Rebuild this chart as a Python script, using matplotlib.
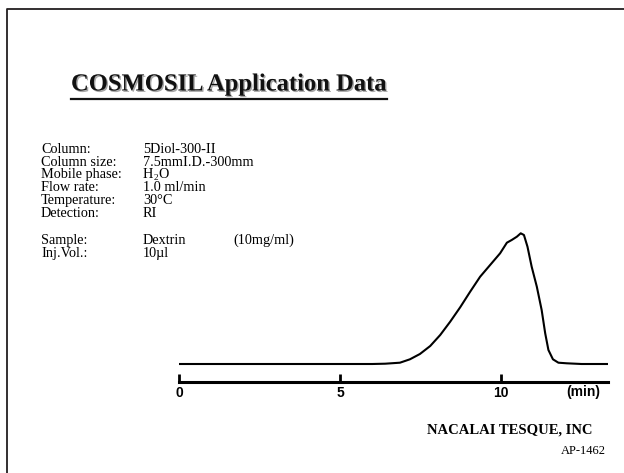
import matplotlib
matplotlib.use("Agg")
import matplotlib.pyplot as plt
import matplotlib.patheffects as pe
from matplotlib.lines import Line2D

# chromatogram (time in min, RI signal in arbitrary units)
time_min = [0.0, 3.0, 6.0, 6.4, 6.86, 7.17, 7.48, 7.80, 8.11, 8.42, 8.73,
            9.04, 9.35, 9.66, 9.97, 10.18, 10.33, 10.49, 10.61, 10.71,
            10.82, 10.95, 11.11, 11.26, 11.37, 11.47, 11.61, 11.78, 12.04,
            12.5, 13.32]
signal = [0.0, 0.0, 0.0, 0.3, 1.3, 4.7, 10, 18, 29, 42.3, 56.7,
          72.3, 87.3, 99, 110.7, 121.3, 124, 127.3, 130.7, 129,
          117.3, 97.3, 77.3, 54, 30.7, 14, 4.7, 1.3, 0.7,
          0.0, 0.0]
x_ticks = [0, 5, 10]

labels = ["Column:", "Column size:", "Mobile phase:", "Flow rate:",
          "Temperature:", "Detection:"]
values = ["5Diol-300-II", "7.5mmI.D.-300mm", None, "1.0 ml/min",
          "30°C", "RI"]
mobile_phase = ["H", "2", "O"]  # H2O, drawn with a real small subscript
sample_labels = ["Sample:", "Inj.Vol.:"]
sample_values = ["Dextrin", "10µl"]

W, H = 624, 473
fig = plt.figure(figsize=(W / 100, H / 100), dpi=100)

def fx(px):
    return px / W

def fy(py):
    return 1 - py / H

# page frame (top and left edge)
fig.add_artist(Line2D([fx(7), fx(7), 1.0], [0.0, fy(9), fy(9)],
                      color="#231f20", lw=1.3, transform=fig.transFigure))

# title with underline and soft shadow
title = fig.text(fx(71), fy(84), "COSMOSIL Application Data",
                 family="Liberation Serif", weight="bold", fontsize=17.7,
                 va="center", ha="left", color="#111111")
title.set_path_effects([pe.SimplePatchShadow(offset=(1, -1), alpha=0.35),
                        pe.Normal()])
fig.canvas.draw()
renderer = fig.canvas.get_renderer()
bb = title.get_window_extent(renderer)
fig.add_artist(Line2D([fx(bb.x0), fx(bb.x1)], [fy(99), fy(99)],
                      color="#111111", lw=1.6, transform=fig.transFigure))

# conditions
fs = 10.3
serif = dict(family="Liberation Serif", fontsize=fs, ha="left",
             va="baseline")
base_off = 3.8  # baseline sits this many px below the line centre
for i, (lab, val) in enumerate(zip(labels, values)):
    y = 149 + i * 12.8 + base_off
    fig.text(fx(41), fy(y), lab, **serif)
    if val is not None:
        fig.text(fx(143), fy(y), val, **serif)
    else:
        x = 143
        for part, small in zip(mobile_phase, [False, True, False]):
            t = fig.text(fx(x), fy(y + (2 if small else 0)), part,
                         family="Liberation Serif",
                         fontsize=fs * 0.65 if small else fs,
                         ha="left", va="baseline")
            x += t.get_window_extent(renderer).width
for i, (lab, val) in enumerate(zip(sample_labels, sample_values)):
    y = 240 + i * 13 + base_off
    fig.text(fx(41), fy(y), lab, **serif)
    fig.text(fx(143), fy(y), val, **serif)
fig.text(fx(233), fy(240 + base_off), "(10mg/ml)", **serif)

# chromatogram axes
ax = fig.add_axes([fx(179), fy(382), fx(608) - fx(179), (382 - 220) / H])
ax.plot(time_min, signal, color="black", lw=1.5)
ax.set_xlim(0, 13.32)
ax.set_ylim(-18, 144)
for s in ["top", "left", "right"]:
    ax.spines[s].set_visible(False)
ax.spines["bottom"].set_linewidth(2.2)
ax.set_yticks([])
ax.set_xticks(x_ticks)
ax.tick_params(axis="x", direction="in", length=6, width=2, pad=3,
               labelsize=10)
for t in ax.get_xticklabels():
    t.set_family("Liberation Sans")
    t.set_weight("bold")
ax.patch.set_alpha(0)

fig.text(fx(583), fy(392), "(min)", family="Liberation Sans", weight="bold",
         fontsize=10, ha="center", va="center")
fig.text(fx(510), fy(430), "NACALAI TESQUE, INC", family="Liberation Serif",
         weight="bold", fontsize=10.5, ha="center", va="center")
fig.text(fx(606), fy(451), "AP-1462", family="Liberation Serif",
         fontsize=9, ha="right", va="center")

fig.savefig("out.png", dpi=100)
